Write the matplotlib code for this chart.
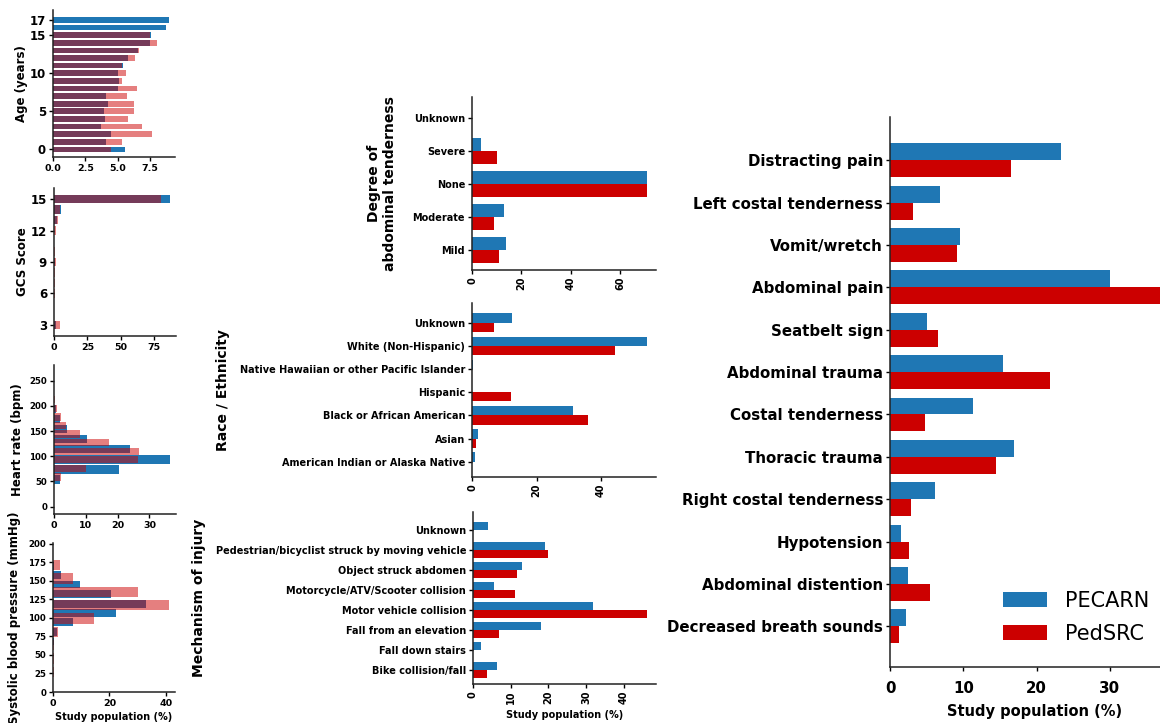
import numpy as np
import matplotlib.pyplot as plt

plt.rcParams['font.family'] = 'DejaVu Sans'
plt.rcParams['font.weight'] = 'bold'
plt.rcParams['axes.labelweight'] = 'bold'

BLUE = '#1f77b4'
RED = '#cc0000'

# ---- Age distribution (% of study population per year of age)
ages = np.arange(18)
age_pecarn = [5.54, 4.07, 4.48, 3.71, 4.02, 3.90, 4.28, 4.07, 5.03, 5.10,
              5.03, 5.38, 5.80, 6.55, 7.47, 7.55, 8.76, 8.97]
age_pedsrc = [4.48, 5.33, 7.65, 6.90, 5.77, 6.26, 6.26, 5.70, 6.52, 5.36,
              5.67, 5.30, 6.30, 6.65, 8.04, 7.50, 0.0, 0.0]

# ---- GCS score
gcs_scores = np.arange(3, 16)
gcs_pecarn = [1.5, 0.0, 0.0, 0.2, 0.2, 0.2, 0.4, 0.2, 0.0, 0.3, 2.0, 5.5, 87.0]
gcs_pedsrc = [4.8, 0.0, 0.0, 1.0, 0.6, 0.5, 1.2, 0.5, 0.0, 1.25, 3.0, 4.8, 80.0]

# ---- Heart rate histograms (bin centres in bpm, % per bin)
hr_pecarn_bins = [54, 74, 94, 114, 134, 154, 174, 194]
hr_pecarn_pct = [1.8, 20.3, 36.5, 23.8, 10.4, 4.0, 2.0, 0.5]
hr_pedsrc_bins = [59, 76, 93, 110, 127, 144, 161, 178, 195, 212]
hr_pedsrc_pct = [2.1, 10.1, 26.4, 26.6, 17.4, 8.3, 3.9, 2.1, 1.0, 0.3]

# ---- Systolic blood pressure histograms (bin centres in mmHg, % per bin)
sbp_pecarn_bins = [68, 81, 94, 107, 119, 132, 145, 158, 170]
sbp_pecarn_pct = [0.3, 1.5, 7.1, 22.4, 32.9, 20.6, 9.4, 2.9, 0.4]
sbp_pedsrc_bins = [27, 45, 63, 81, 99, 117, 135, 153, 171]
sbp_pedsrc_pct = [0.3, 0.2, 0.3, 1.8, 14.7, 41.2, 30.0, 7.0, 2.35]

# ---- Degree of abdominal tenderness
tender_cats = ['Mild', 'Moderate', 'None', 'Severe', 'Unknown']
tender_pecarn = [13.7, 13.0, 70.9, 3.6, 0.0]
tender_pedsrc = [11.0, 9.1, 70.8, 10.1, 0.0]

# ---- Race / ethnicity
race_cats = ['American Indian or Alaska Native', 'Asian',
             'Black or African American', 'Hispanic',
             'Native Hawaiian or other Pacific Islander',
             'White (Non-Hispanic)', 'Unknown']
race_pecarn = [0.8, 1.9, 31.3, 0.0, 0.4, 54.3, 12.3]
race_pedsrc = [0.0, 1.35, 35.9, 12.0, 0.0, 44.2, 6.8]

# ---- Mechanism of injury
mech_cats = ['Bike collision/fall', 'Fall down stairs', 'Fall from an elevation',
             'Motor vehicle collision', 'Motorcycle/ATV/Scooter collision',
             'Object struck abdomen',
             'Pedestrian/bicyclist struck by moving vehicle', 'Unknown']
mech_pecarn = [6.3, 2.2, 18.0, 32.0, 5.5, 12.9, 19.1, 3.9]
mech_pedsrc = [3.6, 0.0, 7.0, 46.3, 11.1, 11.75, 19.9, 0.0]

# ---- Clinical findings
find_cats = ['Decreased breath sounds', 'Abdominal distention', 'Hypotension',
             'Right costal tenderness', 'Thoracic trauma', 'Costal tenderness',
             'Abdominal trauma', 'Seatbelt sign', 'Abdominal pain',
             'Vomit/wretch', 'Left costal tenderness', 'Distracting pain']
find_pecarn = [2.2, 2.4, 1.5, 6.2, 16.95, 11.35, 15.45, 5.0, 30.0, 9.55, 6.8, 23.3]
find_pedsrc = [1.2, 5.4, 2.6, 2.8, 14.45, 4.75, 21.8, 6.6, 37.5, 9.2, 3.2, 16.45]

W, H = 1160, 723
fig = plt.figure(figsize=(W / 100, H / 100), dpi=100)


def add_ax(x0, y0, x1, y1):
    return fig.add_axes([x0 / W, 1 - y1 / H, (x1 - x0) / W, (y1 - y0) / H])


def style(ax, xt_size, yt_size, rot=0, xpad=2):
    for s in ('top', 'right'):
        ax.spines[s].set_visible(False)
    for s in ('left', 'bottom'):
        ax.spines[s].set_color('#222222')
        ax.spines[s].set_linewidth(1.1)
    ax.tick_params(axis='x', labelsize=xt_size, length=3, width=1, pad=xpad,
                   labelrotation=rot)
    ax.tick_params(axis='y', labelsize=yt_size, length=3, width=1, pad=2)
    for lab in ax.get_xticklabels() + ax.get_yticklabels():
        lab.set_fontweight('bold')


def hist_panel(ax, p_pos, p_val, p_h, r_pos, r_val, r_h):
    ax.barh(p_pos, p_val, height=p_h, color=BLUE)
    ax.barh(r_pos, r_val, height=r_h, color=RED, alpha=0.5)


# Age
ax = add_ax(53, 10, 175, 157)
hist_panel(ax, ages, age_pecarn, 0.75, ages, age_pedsrc, 0.75)
ax.set_ylim(-1.0, 18.3)
ax.set_yticks([0, 5, 10, 15, 17])
ax.set_xticks([0, 2.5, 5, 7.5])
ax.set_xticklabels(['0.0', '2.5', '5.0', '7.5'])
ax.set_ylabel('Age (years)', fontsize=8.5, labelpad=1)
style(ax, 6.8, 8.5)

# GCS
ax = add_ax(54, 188, 176, 336)
hist_panel(ax, gcs_scores, gcs_pecarn, 0.8, gcs_scores, gcs_pedsrc, 0.8)
ax.set_ylim(1.95, 16.05)
ax.set_yticks([3, 6, 9, 12, 15])
ax.set_xticks([0, 25, 50, 75])
ax.set_ylabel('GCS Score', fontsize=8.5, labelpad=1)
style(ax, 6.8, 8.5)

# Heart rate
ax = add_ax(54, 365, 176, 514)
hist_panel(ax, hr_pecarn_bins, hr_pecarn_pct, 17, hr_pedsrc_bins, hr_pedsrc_pct, 14.5)
ax.set_ylim(-14.5, 281)
ax.set_yticks([0, 50, 100, 150, 200, 250])
ax.set_xticks([0, 10, 20, 30])
ax.set_ylabel('Heart rate (bpm)', fontsize=8.5, labelpad=4)
style(ax, 6.8, 6.2)

# Systolic blood pressure
ax = add_ax(53, 543, 175, 692)
hist_panel(ax, sbp_pecarn_bins, sbp_pecarn_pct, 10.5, sbp_pedsrc_bins, sbp_pedsrc_pct, 14)
ax.set_ylim(0, 201)
ax.set_yticks([0, 25, 50, 75, 100, 125, 150, 175, 200])
ax.set_xticks([0, 20, 40])
ax.set_ylabel('Systolic blood pressure (mmHg)', fontsize=8.5, labelpad=5)
ax.set_xlabel('Study population (%)', fontsize=7, labelpad=3)
style(ax, 6.8, 6.2)


def paired_barh(ax, cats, pec, ped):
    y = np.arange(len(cats))
    ax.barh(y + 0.2, pec, height=0.4, color=BLUE, label='PECARN')
    ax.barh(y - 0.2, ped, height=0.4, color=RED, label='PedSRC')
    ax.set_yticks(y)
    ax.set_yticklabels(cats)
    return y


# Abdominal tenderness
ax = add_ax(472, 97, 656, 270)
paired_barh(ax, tender_cats, tender_pecarn, tender_pedsrc)
ax.set_ylim(-0.62, 4.65)
ax.set_xticks([0, 20, 40, 60])
ax.set_ylabel('Degree of\nabdominal tenderness', fontsize=10, labelpad=11)
style(ax, 7, 7, rot=90)

# Race / ethnicity
ax = add_ax(472, 303, 656, 477)
paired_barh(ax, race_cats, race_pecarn, race_pedsrc)
ax.set_ylim(-0.66, 6.85)
ax.set_xticks([0, 20, 40])
ax.set_ylabel('Race / Ethnicity', fontsize=10, labelpad=7)
style(ax, 7, 7, rot=90)

# Mechanism of injury
ax = add_ax(473, 512, 656, 684)
paired_barh(ax, mech_cats, mech_pecarn, mech_pedsrc)
ax.set_ylim(-0.7, 7.88)
ax.set_xticks([0, 10, 20, 30, 40])
ax.set_ylabel('Mechanism of injury', fontsize=10, labelpad=7)
ax.set_xlabel('Study population (%)', fontsize=7, labelpad=4)
style(ax, 7, 7, rot=90)

# Clinical findings
ax = add_ax(890, 117, 890 + 39.4 * 7.33, 667)
paired_barh(ax, find_cats, find_pecarn, find_pedsrc)
ax.set_ylim(-0.96, 12.02)
ax.set_xlim(0, 39.4)
ax.set_xticks([0, 10, 20, 30])
ax.set_xlabel('Study population (%)', fontsize=10.5, labelpad=6)
style(ax, 10.8, 10.8, xpad=7)
ax.legend(loc='upper left', bbox_to_anchor=(1003 / W, 1 - 591 / H),
          bbox_transform=fig.transFigure, frameon=False, borderpad=0,
          borderaxespad=0, handlelength=2.1, handleheight=0.75,
          handletextpad=0.87, labelspacing=0.62,
          prop={'size': 15, 'weight': 'normal'})

fig.savefig('out.png', dpi=100)
